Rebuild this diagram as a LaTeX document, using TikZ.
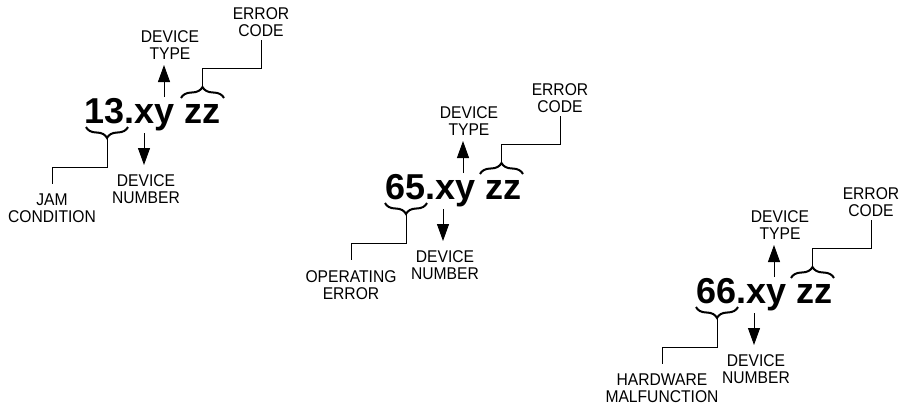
\documentclass[tikz,border=0pt]{standalone}
\usepackage{fontspec}
\setmainfont{Liberation Sans}
\newfontfamily\lblfont[FakeStretch=0.92]{Liberation Sans}
\usetikzlibrary{decorations.pathreplacing,arrows.meta,calc}
\tikzset{
  bignum/.style={font=\bfseries\fontsize{36}{40}\selectfont, inner sep=0pt, anchor=base west},
  lbl/.style={font=\lblfont\fontsize{17}{17}\selectfont, inner sep=0pt, anchor=north, align=center},
  brc/.style={decorate, decoration={brace, amplitude=11pt}, line width=2pt},
  conn/.style={line width=1pt},
  arr/.style={line width=1pt, -{Triangle[length=17pt,width=12pt]}},
}
% #1 = X (left of digits), #2 = B (baseline), #3 = number, #4 = side bearing, #5 = lower label, #6 = id
\newcommand\codegroup[6]{%
  \node[bignum] (num#6) at ({#1-#4},#2) {#3.xy zz};
  \node[lbl] (low#6) at ({#1-36},{#2+71}) {#5};
  \node[lbl] (dn#6) at ({#1+58},{#2+51}) {DEVICE\\NUMBER};
  \node[lbl] (dt#6) at ({#1+82},{#2-93}) {DEVICE\\TYPE};
  \node[lbl] (ec#6) at ({#1+173},{#2-116}) {ERROR\\CODE};
  % braces
  \draw[brc] ({#1+40},{#2+4}) -- ({#1-2},{#2+4});
  \draw[brc] ({#1+93},{#2-25}) -- ({#1+136},{#2-25});
  \coordinate (bl#6) at ({#1+19},{#2+15});
  \coordinate (bu#6) at ({#1+114.5},{#2-36});
  % connectors
  \draw[conn] (bl#6) -- ++(0,29) -| ($(low#6.north)+(0,-10)$);
  \draw[conn] (bu#6) -- ++(0,-19) -| ($(ec#6.south)+(0,4)$);
  % arrows
  \coordinate (das#6) at ({#1+56},{#2+10});
  \coordinate (dae#6) at ({#1+56},{#2+42});
  \coordinate (uas#6) at ({#1+76},{#2-26});
  \coordinate (uae#6) at ({#1+76},{#2-58});
  \draw[arr] (das#6) -- (dae#6);
  \draw[arr] (uas#6) -- (uae#6);
}
\begin{document}
\begin{tikzpicture}[x=1pt,y=-1pt]
  \useasboundingbox (0,0) rectangle (906,407);
  \codegroup{88}{123}{13}{3.5}{JAM\\CONDITION}{a}
  \codegroup{387}{199}{65}{1.5}{OPERATING\\ERROR}{b}
  \codegroup{698}{303}{66}{1.5}{HARDWARE\\MALFUNCTION}{c}
\end{tikzpicture}
\end{document}
